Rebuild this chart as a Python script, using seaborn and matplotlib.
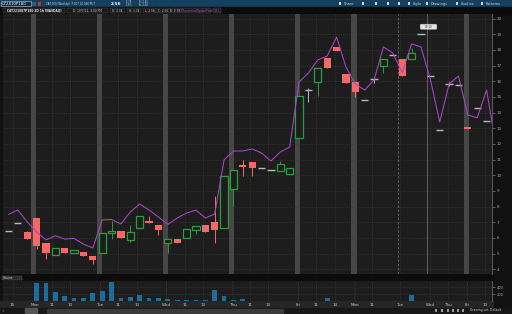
import numpy as np
import pandas as pd
import matplotlib
matplotlib.use("Agg")
import matplotlib.pyplot as plt
import seaborn as sns
from matplotlib.patches import Rectangle, FancyBboxPatch

# ---------------- data ----------------
open_ = [6.44, 6.95, 6.38, 7.27, 5.68, 4.91, 5.36, 5.04, 5.10, 4.85,
         5.04, 6.32, 6.44, 5.87, 6.64, 7.08, 6.83, 5.68, 5.93, 6.00,
         6.51, 6.83, 7.02, 6.64, 9.13, 10.66, 10.85, 10.46, 10.34, 10.27,
         10.08, 12.38, 15.44, 15.95, 17.48, 18.19, 16.46, 15.95, 14.81, 16.14,
         16.98, 17.68, 17.42, 17.42, 19.02, 16.33, 12.89, 15.83, 15.76, 13.08,
         14.29, 13.46]
high = [6.44, 6.95, 6.44, 7.27, 5.68, 5.36, 5.36, 5.23, 5.10, 4.85,
        6.32, 7.08, 6.44, 6.83, 7.40, 7.40, 6.83, 5.93, 5.93, 6.57,
        6.76, 6.83, 8.68, 9.95, 10.34, 10.97, 10.85, 10.46, 10.34, 10.91,
        10.46, 15.06, 15.57, 16.85, 17.48, 18.19, 16.46, 15.95, 14.81, 16.27,
        17.42, 17.68, 17.42, 18.12, 19.02, 16.33, 12.89, 15.95, 15.76, 13.08,
        14.29, 13.46]
low = [6.44, 6.95, 5.93, 5.30, 4.66, 4.91, 5.04, 5.04, 4.85, 4.34,
       5.04, 5.93, 6.00, 5.74, 6.64, 6.95, 6.19, 5.04, 5.68, 6.00,
       6.25, 6.38, 5.68, 6.64, 8.04, 9.95, 9.95, 10.46, 10.34, 10.27,
       10.08, 12.38, 14.68, 15.06, 16.85, 17.93, 15.89, 15.00, 14.81, 15.89,
       16.52, 17.68, 16.33, 17.42, 19.02, 16.33, 12.89, 15.70, 15.76, 12.95,
       14.29, 13.46]
close = [6.44, 6.95, 5.93, 5.49, 5.04, 5.36, 5.04, 5.23, 4.85, 4.59,
         6.32, 6.44, 6.00, 6.38, 7.40, 6.95, 6.51, 5.93, 5.68, 6.57,
         6.76, 6.38, 6.51, 9.95, 10.34, 10.53, 10.46, 10.46, 10.34, 10.72,
         10.46, 15.06, 15.44, 16.85, 16.85, 17.93, 15.89, 15.32, 14.81, 16.14,
         17.42, 17.68, 16.33, 17.80, 19.02, 16.33, 12.89, 15.83, 15.76, 12.95,
         14.29, 13.46]
volume = [0, 0, 10, 530, 530, 260, 140, 90, 80, 240,
          290, 560, 80, 110, 170, 80, 80, 50, 30, 30,
          30, 30, 320, 150, 20, 50, 10, 0, 0, 0,
          0, 10, 0, 10, 100, 0, 0, 0, 0, 0,
          0, 0, 10, 180, 0, 0, 0, 0, 0, 0,
          0, 0]
theo_price = [7.50, 7.78, 7.02, 6.40, 5.87, 6.14, 5.93, 5.97, 5.61, 5.36,
              7.15, 7.18, 6.89, 7.66, 8.17, 7.78, 7.34, 6.86, 7.27, 7.59,
              7.78, 7.27, 7.53, 10.98, 11.55, 11.55, 11.68, 11.42, 10.91, 11.49,
              11.80, 15.95, 16.53, 17.36, 17.61, 18.82, 16.91, 15.82, 15.44, 16.08,
              18.19, 17.80, 16.53, 18.38, 18.19, 16.14, 13.40, 15.82, 16.33, 13.85,
              13.66, 15.44, 11.93]
x_tick_pos = [0.45, 2.84, 4.65, 6.57, 9.77, 11.69, 13.72, 16.81, 18.84, 20.76,
              23.96, 25.77, 27.69, 30.89, 32.81, 34.84, 36.97, 38.78, 41.77,
              44.97, 46.89, 48.91, 50.83]
x_tick_labels = ["15", "Mon", "11", "13", "Tue", "11", "13", "Wed", "11", "13",
                 "Thu", "11", "13", "Fri", "11", "14", "Mon", "11", "Tue",
                 "Wed", "Thu", "Fri", "13"]
day_bands = [2.68, 9.72, 16.76, 23.8, 30.84, 36.86, 48.87]
price_ticks = list(range(4, 21))
volume_ticks = [200, 400]

# ---------------- style ----------------
sns.set_theme(style="dark", rc={
    "axes.facecolor": "#1d1d1d", "figure.facecolor": "#111111",
    "axes.edgecolor": "#4a4a4a", "text.color": "#cfcfcf",
    "xtick.color": "#bdbdbd", "ytick.color": "#bdbdbd"})
plt.rcParams['font.family'] = ['DejaVu Sans']

W, H = 512, 314
fig = plt.figure(figsize=(W / 100, H / 100), dpi=100)

def px_axes(x0, y0, x1, y1, z=1):
    return fig.add_axes([x0 / W, 1 - y1 / H, (x1 - x0) / W, (y1 - y0) / H], zorder=z)

# background frame pieces
bg = px_axes(0, 0, W, H, z=0)
bg.set_xlim(0, W); bg.set_ylim(H, 0); bg.axis("off")
bg.add_patch(Rectangle((0, 0), W, H, color="#111111"))
bg.add_patch(Rectangle((0, 0), W, 7.3, color="#13405f"))
bg.add_patch(Rectangle((0, 7.3), W, 6.7, color="#0b0b0b"))
bg.add_patch(Rectangle((0, 274), 493, 7, color="#0c0c0c"))
bg.add_patch(Rectangle((0, 301), 493, 6.5, color="#262626"))
bg.add_patch(Rectangle((0, 307.5), W, 6.5, color="#181818"))
bg.add_patch(Rectangle((47, 308.5), 236, 4, color="#3a3a3a"))
bg.add_patch(Rectangle((25, 308.3), 12, 4.4, color="#555555"))

n = len(open_)
idx = np.arange(n)
xlim = (-0.58, 51.58)

# ---------------- price pane ----------------
ax = px_axes(3, 14, 492, 274, z=1)
ax.set_xlim(*xlim)
ax.set_ylim(3.70, 20.29)
for d in day_bands:
    ax.axvspan(d - 0.27, d + 0.27, color="#474747", lw=0, zorder=0.5)
ax.axvline(41.56, color="#6a6a6a", lw=0.6, ls=(0, (3, 2)), zorder=0.6)
ax.axvline(44.6, color="#5a5a5a", lw=0.8, zorder=0.6)
ax.set_xticks(x_tick_pos)
ax.set_xticklabels([])
ax.set_yticks(price_ticks)
ax.set_yticklabels([str(t) for t in price_ticks])
ax.grid(True, ls=(0, (1, 2)), color="#444444", lw=0.5)
ax.yaxis.tick_right()
ax.tick_params(axis="y", labelsize=3, length=2, width=0.4, pad=1.5, colors="#a8a8a8")
ax.tick_params(axis="x", length=0)
for s in ["top", "left", "bottom"]:
    ax.spines[s].set_visible(False)
ax.spines["right"].set_color("#555555")
ax.spines["right"].set_linewidth(0.8)

RED = "#f86868"
GREEN = "#2c9c3c"
DOJI = "#b8b8b8"
bw = 0.78
for i in range(n):
    o, h, l, c = open_[i], high[i], low[i], close[i]
    if abs(o - c) < 1e-9:
        ax.vlines(i, l, h, color=DOJI, lw=0.7, zorder=3)
        ax.hlines(o, i - bw / 2, i + bw / 2, color=DOJI, lw=1.0, zorder=3)
    elif c < o:
        ax.vlines(i, l, h, color=RED, lw=0.7, zorder=3)
        ax.bar(i, o - c, bottom=c, width=bw, color=RED, lw=0, zorder=4)
    else:
        ax.vlines(i, l, o, color=GREEN, lw=0.7, zorder=3)
        ax.vlines(i, c, h, color=GREEN, lw=0.7, zorder=3)
        ax.bar(i, c - o, bottom=o, width=bw, facecolor="#1d1d1d",
               edgecolor=GREEN, lw=0.9, zorder=4)

theo_df = pd.DataFrame({"x": np.arange(len(theo_price)), "theo": theo_price})
sns.lineplot(data=theo_df, x="x", y="theo", ax=ax, color="#a946c6", lw=0.75, zorder=5)
ax.set_xlim(*xlim)
ax.set_xlabel(""); ax.set_ylabel("")

# ---------------- volume pane ----------------
vax = px_axes(3, 281, 492, 301, z=1)
vax.set_xlim(*xlim)
vax.set_ylim(0, 590)
for d in day_bands:
    vax.axvline(d, color="#3a3a3a", lw=0.5, ls=(0, (1, 2)), zorder=0.5)
vax.bar(idx, volume, width=0.5, color="#1b6d9e", lw=0, zorder=3)
vax.set_yticks(volume_ticks)
vax.set_yticklabels([str(v) for v in volume_ticks])
vax.yaxis.tick_right()
vax.set_xticks(x_tick_pos)
vax.set_xticklabels(x_tick_labels)
vax.grid(True, ls=(0, (1, 2)), color="#444444", lw=0.5)
vax.tick_params(axis="y", labelsize=2.6, length=2, width=0.4, pad=1.5, colors="#a8a8a8")
vax.tick_params(axis="x", labelsize=3, length=0, pad=1.6, colors="#c8c8c8")
for s in ["top", "left", "bottom"]:
    vax.spines[s].set_visible(False)
vax.spines["right"].set_color("#555555")
vax.spines["right"].set_linewidth(0.8)

# ---------------- overlay texts ----------------
ov = px_axes(0, 0, W, H, z=10)
ov.set_xlim(0, W); ov.set_ylim(H, 0); ov.axis("off")
ov.patch.set_alpha(0)

def t(x, y, s, fs=2.8, c="#d8d8d8", **kw):
    ov.text(x, y, s, fontsize=fs, color=c, va="center", ha=kw.pop("ha", "left"), **kw)

ov.add_patch(Rectangle((1, 1), 30, 5.3, facecolor="#0d2c46", edgecolor="#c8c8c8", lw=0.4))
t(2.5, 3.7, "/Z2410P180", fs=2.8, c="white")
ov.add_patch(Rectangle((31.5, 1.5), 4, 4.5, facecolor="#3b5870", lw=0))
ov.add_patch(Rectangle((38, 1.5), 2.5, 4.5, facecolor="#d02a2a", lw=0))
t(46, 3.7, "CAT 100 (Weeklys) 7 OCT 22 180 PUT", fs=1.9)
t(111, 3.7, "2.56", fs=3.1, c="white", weight="bold")
t(126, 2.3, "-0.78", fs=1.8, c="#c8c8c8")
t(126, 5.2, "-23%", fs=1.8, c="#c8c8c8")
t(139, 2.3, "B: 2.45", fs=1.8, c="#c8c8c8")
t(139, 5.2, "A: 2.68", fs=1.8, c="#c8c8c8")
for x, s in [(344, "Share"), (413, "Style"), (431, "Drawings"), (461, "Studies"), (486, "Patterns")]:
    t(x, 3.7, s, fs=2.6)
for x in [340, 363, 376, 388, 399, 409, 427, 457, 482]:
    ov.add_patch(Rectangle((x - 1.2, 2.3), 2.4, 2.8, facecolor="#cfd8df", lw=0))

boxes = [(3, 65, "CAT221007P180 2D 1h [NASDAQ]", "#e8e8e8"),
         (67, 108, "D: 10/7/22, 3:00 PM", "#cfcfcf"),
         (110, 125, "O: 3.34", "#cfcfcf"),
         (127, 141, "H: 3.34", "#cfcfcf"),
         (143, 156, "L: 2.56", "#cfcfcf"),
         (157, 169, "C: 2.56", "#cfcfcf"),
         (170, 181, "R: 0.78", "#cfcfcf"),
         (182, 211, "TheoreticalOptionPrice", "#c050e0"),
         (213, 221, "3.11", "#c050e0")]
for x0, x1, s, col in boxes:
    ov.add_patch(Rectangle((x0, 8), x1 - x0, 5, facecolor="#1a1a1a",
                           edgecolor="#5a5a5a", lw=0.3))
    ov.text((x0 + x1) / 2, 10.6, s, fontsize=2.1, color=col, ha="center",
            va="center", weight="bold" if x0 == 3 else "normal")

# price bubble
ov.add_patch(FancyBboxPatch((420.5, 24.5), 16, 4.5, boxstyle="round,pad=0.4,rounding_size=1.2",
                            facecolor="#e6e6e6", edgecolor="#999999", lw=0.3))
ov.text(428.5, 26.9, "19.10", fontsize=2.0, color="#333333", ha="center", va="center")

# volume header
ov.add_patch(Rectangle((2, 275.5), 16, 4.3, facecolor="#2a2a2a", edgecolor="#666666", lw=0.3))
t(3, 277.7, "Volume", fs=2.1, c="#d0d0d0")
ov.add_patch(Rectangle((19, 275.5), 3, 4.3, facecolor="#2a2a2a", edgecolor="#666666", lw=0.3))

# bottom bar
t(470, 310.5, "Drawing set: Default", fs=2.2, c="#cfcfcf")
for x in [436, 442, 448, 453, 458, 463]:
    ov.add_patch(Rectangle((x - 1.2, 309.3), 2.4, 2.6, facecolor="#9a9a9a", lw=0))
t(2, 310.5, "<", fs=2.2, c="#9a9a9a")

fig.savefig("out.png", dpi=100, facecolor=fig.get_facecolor())
